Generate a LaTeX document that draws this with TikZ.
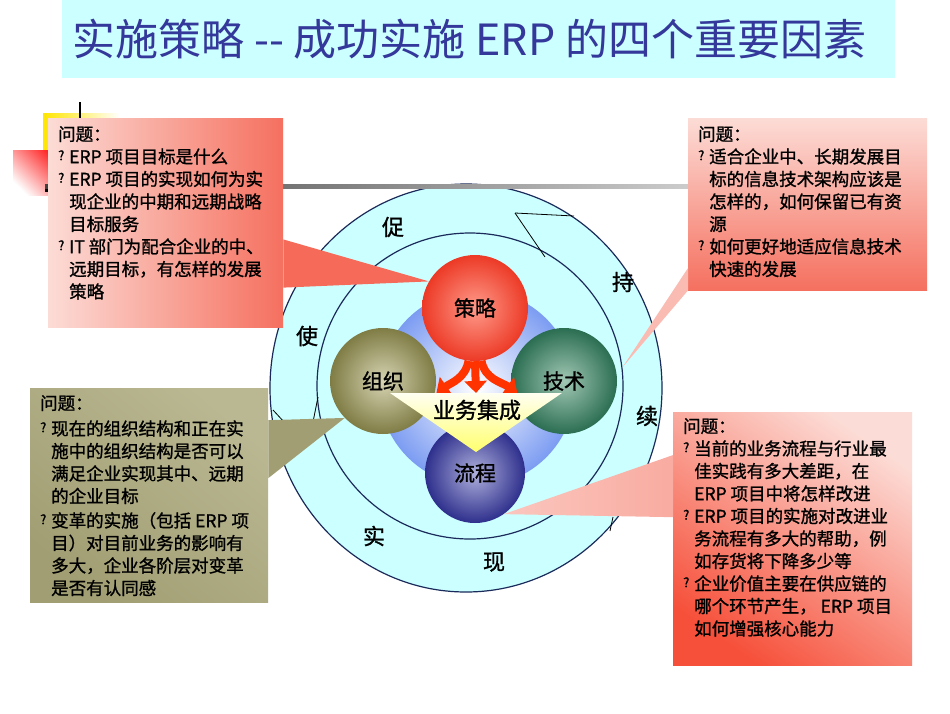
\documentclass[tikz,border=0pt]{standalone}
\usepackage{fontspec}
\setmainfont{Noto Sans CJK SC}
\newfontfamily\qfont{Noto Sans CJK SC}[FakeBold=1.2]
\usepackage{tikz}
\usetikzlibrary{shapes.geometric, arrows.meta, positioning, calc}

\definecolor{titlecyan}{HTML}{CCFFFF}
\definecolor{titleblue}{HTML}{34389A}
\definecolor{ringcyan}{HTML}{CCFFFF}
\definecolor{ringline}{HTML}{1A2A5A}
\definecolor{stratin}{HTML}{FF9A8A}
\definecolor{stratout}{HTML}{EC3A26}
\definecolor{orgin}{HTML}{D6D4B2}
\definecolor{orgout}{HTML}{7F7C45}
\definecolor{techin}{HTML}{A2C8B4}
\definecolor{techout}{HTML}{2B6E52}
\definecolor{procin}{HTML}{AEB0DC}
\definecolor{procout}{HTML}{2E2F8C}
\definecolor{coreblue}{HTML}{7C9CF2}
\definecolor{arrowred}{HTML}{FF3300}
\definecolor{trilight}{HTML}{FFFFF2}
\definecolor{tridark}{HTML}{FFFF6E}
\definecolor{pinklight}{HTML}{FCDCD6}
\definecolor{pinkdark}{HTML}{F5705F}
\definecolor{redcorner}{HTML}{F6503A}
\definecolor{olivelight}{HTML}{BAB892}
\definecolor{olivedark}{HTML}{A19E73}

\newcommand{\qm}{\makebox[11pt][l]{\raisebox{3pt}{\fontsize{13}{13}\selectfont ?}}}
\newcommand{\qi}{\hspace*{11pt}}

\begin{document}
\begin{tikzpicture}[x=1pt, y=-1pt,
    titlebox/.style={fill=titlecyan, minimum width=833pt, minimum height=78pt, inner sep=0pt, text=titleblue, font=\fontsize{43}{43}\selectfont},
    callout/.style={rectangle, anchor=north west, inner ysep=0pt, inner xsep=10pt, font=\qfont\fontsize{17.5}{22.5}\selectfont},
    ball/.style={circle, minimum size=106pt, inner sep=0pt, font=\qfont\fontsize{21}{21}\selectfont},
    ring/.style={draw=ringline, fill=ringcyan, line width=1.2pt, inner sep=0pt},
    ringword/.style={font=\qfont\fontsize{22}{22}\selectfont},
    redarrow/.style={-{Triangle[length=12pt,width=22pt]}, line width=8pt, draw=arrowred},
    markline/.style={draw=black, line width=0.8pt}
]

% Canvas
\fill[white] (0,0) rectangle (950,713);
\useasboundingbox (0,0) rectangle (950,713);

% Title
\node[titlebox] (title) at (478.5,39) {实施策略 {-}{-} 成功实施 ERP 的四个重要因素\hspace*{18pt}};

% Corner marks
\shade[left color=yellow!80!orange, right color=white] (43,113) rectangle (120,190);
\shade[top color=red!85!white, bottom color=white, shading angle=-45] (13,150) rectangle (60,195);
\draw[line width=2pt] (80,102) -- (80,122);
\fill[black] (45,187) rectangle (48,192);

% Rings
\node[ring, ellipse, minimum width=392pt, minimum height=408pt] (outring) at (466,388) {};
\node[ring, circle, minimum size=306pt] (inring) at (470,386) {};
\draw[markline] (515,213) -- (574,216);
\draw[markline] (515,213) -- (545,257);
\draw[markline] (273,410) -- (285,423);
\draw[markline] (318,397) -- (313,422);
\draw[markline] (613,517) -- (610,531);

\node[ringword] (w1) at (393,227) {促};
\node[ringword] (w2) at (623,282) {持};
\node[ringword] (w3) at (647,416) {续};
\node[ringword] (w4) at (494,562) {现};
\node[ringword] (w5) at (374,536) {实};
\node[ringword] (w6) at (307,336) {使};

% Rule
\shade[left color=black!75, right color=black!20] (45,184) rectangle (690,188);

% Four factors
\node[circle, minimum size=196pt, inner sep=0pt, inner color=white, outer color=coreblue] (core) at (477,388) {};
\node[ball, inner color=stratin, outer color=stratout] (strat) at (475,308) {策略};
\node[ball, inner color=orgin, outer color=orgout] (org) at (383,381) {组织};
\node[ball, inner color=techin, outer color=techout] (tech) at (564,381) {技术};
\node[ball, minimum size=100pt, inner color=procin, outer color=procout] (proc) at (475,473) {流程};

\coordinate (tl) at (390,393);
\coordinate (tr) at (562,393);
\coordinate (tb) at (476,452);

\draw[redarrow] (strat.south) -- ($(tl)!0.5!(tr)$);
\draw[redarrow] (strat.-97) to[out=-100, in=35] ($(tl)!0.27!(tr)$);
\draw[redarrow] (strat.-83) to[out=-80, in=145] ($(tl)!0.74!(tr)$);

\shade[top color=trilight, bottom color=tridark] (tl) -- (tr) -- (tb) -- cycle;
\node[font=\qfont\fontsize{22}{22}\selectfont] (integ) at (477,410) {业务集成};

% Question 1
\node[callout, left color=pinklight, right color=pinkdark] (q1) at (48,118) {\parbox[c][209pt][t]{215pt}{\vspace*{8pt}%
问题：\\
\qm ERP 项目目标是什么\\
\qm ERP 项目的实现如何为实\\
\qi 现企业的中期和远期战略\\
\qi 目标服务\\
\qm IT 部门为配合企业的中、\\
\qi 远期目标，有怎样的发展\\
\qi 策略}};
\fill[pinkdark!95!red] ($(q1.north east)!0.58!(q1.south east)$) -- (strat.150) -- ($(q1.north east)!0.81!(q1.south east)$) -- cycle;

% Question 2
\node[callout, top color=pinklight, bottom color=pinkdark] (q2) at (688,118) {\parbox[c][172pt][t]{219pt}{\vspace*{8pt}%
问题：\\
\qm 适合企业中、长期发展目\\
\qi 标的信息技术架构应该是\\
\qi 怎样的，如何保留已有资\\
\qi 源\\
\qm 如何更好地适应信息技术\\
\qi 快速的发展}};
\fill[pinklight!70!pinkdark] ($(q2.north west)!0.87!(q2.south west)$) -- (inring.7) -- (q2.south west) -- cycle;

% Question 3
\node[callout, top color=olivelight, bottom color=olivedark, shading angle=-40] (q3) at (30,388) {\parbox[c][214pt][t]{218pt}{\vspace*{7pt}%
问题：\\[3pt]
\qm 现在的组织结构和正在实\\
\qi 施中的组织结构是否可以\\
\qi 满足企业实现其中、远期\\
\qi 的企业目标\\[2pt]
\qm 变革的实施（包括 ERP 项\\
\qi 目）对目前业务的影响有\\
\qi 多大，企业各阶层对变革\\
\qi 是否有认同感}};
\fill[olivedark] ($(q3.north east)!0.15!(q3.south east)$) -- (org.224) -- ($(q3.north east)!0.42!(q3.south east)$) -- cycle;

% Question 4
\node[callout, top color=pinklight, bottom color=redcorner, shading angle=-35] (q4) at (673,412) {\parbox[c][253pt][t]{219pt}{\vspace*{6pt}%
问题：\\
\qm 当前的业务流程与行业最\\
\qi 佳实践有多大差距，在\\
\qi ERP 项目中将怎样改进\\
\qm ERP 项目的实施对改进业\\
\qi 务流程有多大的帮助，例\\
\qi 如存货将下降多少等\\
\qm 企业价值主要在供应链的\\
\qi 哪个环节产生， ERP 项目\\
\qi 如何增强核心能力}};
\shade[left color=pinklight!80!pinkdark, right color=pinklight!55!pinkdark] ($(q4.north west)!0.17!(q4.south west)$) -- (proc.-55) -- ($(q4.north west)!0.415!(q4.south west)$) -- cycle;

\end{tikzpicture}
\end{document}
